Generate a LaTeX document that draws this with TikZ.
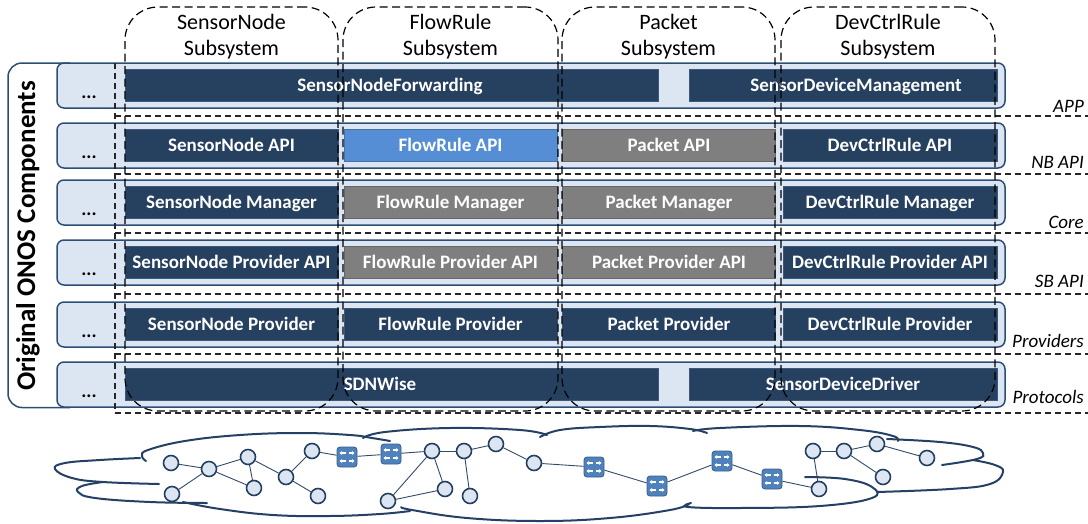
\documentclass[tikz,border=0pt]{standalone}
\usepackage{fontspec}
\setmainfont{Carlito}
\usetikzlibrary{arrows.meta}
\definecolor{navy}{RGB}{38,64,96}
\definecolor{navyline}{RGB}{60,88,124}
\definecolor{rowfill}{RGB}{220,230,242}
\definecolor{rowedge}{RGB}{44,77,117}
\definecolor{grayc}{RGB}{127,127,127}
\definecolor{bluec}{RGB}{85,142,213}
\definecolor{swfill}{RGB}{79,129,189}
\definecolor{swedge}{RGB}{56,93,138}
\definecolor{cloudc}{RGB}{36,64,100}
\definecolor{linkc}{RGB}{50,75,105}
\newcommand\compfont{\fontsize{19}{22}\selectfont\bfseries}
\begin{document}
\begin{tikzpicture}[x=1pt,y=-1pt,
  layer/.style={draw=rowedge, fill=rowfill, line width=1.5pt, rounded corners=7pt,
    minimum width=948pt, minimum height=45pt, inner sep=0pt},
  comp/.style={fill=navy, draw=navyline, line width=0.6pt, minimum height=32pt,
    inner sep=0pt, text=white, font=\compfont, text height=12.2pt, text depth=0pt},
  grey/.style={comp, fill=grayc, draw=grayc!80!black},
  blue/.style={comp, fill=bluec, draw=bluec!80!black},
  w213/.style={minimum width=213pt},
  freetext/.style={anchor=base, text=white, font=\compfont, inner sep=0pt},
  dots/.style={anchor=base, font=\fontsize{19}{22}\selectfont\bfseries, inner sep=0pt},
  head/.style={anchor=base, font=\fontsize{22}{24}\selectfont, inner sep=0pt},
  tier/.style={anchor=base east, font=\fontsize{19}{21}\selectfont\itshape, inner sep=0pt},
  subsys/.style={draw=black, line width=1.2pt, dash pattern=on 8pt off 4.5pt,
    rounded corners=33pt, minimum height=404pt, inner sep=0pt},
  tierline/.style={draw=black!85, line width=1.2pt, dash pattern=on 6pt off 4pt},
  cloudline/.style={draw=cloudc, line width=2pt, line cap=round},
  host/.style={circle, draw=navy, fill=rowfill, line width=1.6pt, minimum size=15pt, inner sep=0pt},
  switch/.style={draw=swedge, fill=swfill, line width=0.8pt, rounded corners=3pt,
    minimum size=20pt, inner sep=0pt,
    path picture={
      \foreach \dy in {4pt,-4pt}{
        \draw[white, line width=1.1pt, -{Triangle[length=2.5pt,width=3.6pt]}]
          ([xshift=-1.5pt,yshift=\dy]path picture bounding box.center) -- ++(-6pt,0);
        \draw[white, line width=1.1pt, -{Triangle[length=2.5pt,width=3.6pt]}]
          ([xshift=1.5pt,yshift=\dy]path picture bounding box.center) -- ++(6pt,0);
      }}},
  link/.style={draw=linkc, line width=0.9pt}
]
\useasboundingbox (0,0) rectangle (1088,523);

% frame of the original ONOS components
\draw[rowedge, line width=1.5pt, rounded corners=14pt] (70,63) -- (8,63) -- (8,407.5) -- (70,407.5);
\node[rotate=90, anchor=base, font=\fontsize{27}{29}\selectfont\bfseries, inner sep=0pt]
  (onos) at (35,236) {Original ONOS Components};

% layers
\node[layer] (rowA) at (531,85.5) {};
\node[layer] (rowB) at (531,145.5) {};
\node[layer] (rowC) at (531,202.5) {};
\node[layer] (rowD) at (531,262.5) {};
\node[layer] (rowE) at (531,324.5) {};
\node[layer] (rowF) at (531,384.5) {};

\foreach \r/\t in {A/63,B/123,C/180,D/240,E/302,F/362}
  \node[dots] (dots\r) at (89,\t+35) {...};

% APP layer
\node[comp, minimum width=533pt] (fwd) at (391.5,85.5) {};
\node[comp, minimum width=308pt] (mgmt) at (843,85.5) {};
\node[freetext] (fwdtxt) at (390,91.5) {SensorNodeForwarding};
\node[freetext] (mgmttxt) at (856,91.5) {SensorDeviceManagement};

% NB API layer
\node[comp, w213] (snapi) at (231.5,145.5) {SensorNode API};
\node[blue, w213] (frapi) at (450.5,145.5) {FlowRule API};
\node[grey, w213] (pkapi) at (669,145.5) {Packet API};
\node[comp, minimum width=214pt] (dcapi) at (890,145.5) {DevCtrlRule API};

% Core layer
\node[comp, w213] (snmgr) at (231.5,202.5) {SensorNode Manager};
\node[grey, w213] (frmgr) at (450.5,202.5) {FlowRule Manager};
\node[grey, w213] (pkmgr) at (669,202.5) {Packet Manager};
\node[comp, minimum width=214pt] (dcmgr) at (890,202.5) {DevCtrlRule Manager};

% SB API layer
\node[comp, w213] (snpapi) at (231.5,262.5) {SensorNode Provider API};
\node[grey, w213] (frpapi) at (450.5,262.5) {FlowRule Provider API};
\node[grey, w213] (pkpapi) at (669,262.5) {Packet Provider API};
\node[comp, minimum width=214pt] (dcpapi) at (890,262.5) {DevCtrlRule Provider API};

% Providers layer
\node[comp, w213] (snprov) at (231.5,324.5) {SensorNode Provider};
\node[comp, w213] (frprov) at (450.5,324.5) {FlowRule Provider};
\node[comp, w213] (pkprov) at (669,324.5) {Packet Provider};
\node[comp, minimum width=214pt] (dcprov) at (890,324.5) {DevCtrlRule Provider};

% Protocols layer
\node[comp, minimum width=533pt] (sdnwise) at (391.5,384.5) {};
\node[comp, minimum width=308pt] (driver) at (843,384.5) {};
\node[freetext] (sdnwisetxt) at (380,390.5) {SDNWise};
\node[freetext] (drivertxt) at (843,390.5) {SensorDeviceDriver};

% tier separators
\draw[tierline] (115,63) -- (115,413);
\foreach \y in {116,174,233,294,354,413}
  \draw[tierline] (115,\y) -- (1088,\y);
\node[tier] (tapp) at (1084,112) {APP};
\node[tier] (tnb) at (1084,168) {NB API};
\node[tier] (tcore) at (1084,228) {Core};
\node[tier] (tsb) at (1084,287) {SB API};
\node[tier] (tprov) at (1084,347) {Providers};
\node[tier] (tproto) at (1084,403) {Protocols};

% subsystems
\node[subsys, minimum width=213pt] (sssn) at (231.5,209) {};
\node[subsys, minimum width=215pt] (ssfr) at (450.5,209) {};
\node[subsys, minimum width=213pt] (sspk) at (668.5,209) {};
\node[subsys, minimum width=214pt] (ssdc) at (888,209) {};
\foreach \n/\x/\a in {sn/231.5/SensorNode, fr/450.5/FlowRule, pk/668.5/Packet, dc/888/DevCtrlRule}{
  \node[head] (h1\n) at (\x,29) {\a};
  \node[head] (h2\n) at (\x,55) {Subsystem};
}

% cloud outline
\draw[cloudline] plot[smooth, tension=0.7] coordinates {(146,461) (142,456) (148,450) (185,441) (240,435) (300,433) (350,435) (372,438) (390,441)};
\draw[cloudline] plot[smooth, tension=0.7] coordinates {(363,438) (385,432) (450,428) (520,430) (547,435)};
\draw[cloudline] plot[smooth, tension=0.7] coordinates {(540,437) (560,430) (600,427) (650,426) (690,429) (707,433)};
\draw[cloudline] plot[smooth, tension=0.7] coordinates {(693,431) (720,428) (800,426) (860,430) (893,436) (898,441)};
\draw[cloudline] plot[smooth, tension=0.7] coordinates {(887,439) (940,442) (973,447) (983,453) (977,459) (942,465)};
\draw[cloudline] plot[smooth, tension=0.7] coordinates {(973,460) (995,465) (1003,472) (990,484) (950,489) (877,492)};
\draw[cloudline] plot[smooth, tension=0.7] coordinates {(805,477) (845,479) (872,487) (872,498) (820,506) (740,508) (688,507) (691,503)};
\draw[cloudline] plot[smooth, tension=0.7] coordinates {(401,507) (412,510) (467,518) (540,521) (610,518) (670,510) (689,504)};
\draw[cloudline] plot[smooth, tension=0.7] coordinates {(183,502) (220,509) (273,515) (330,516) (380,514) (410,511)};
\draw[cloudline] plot[smooth, tension=0.7] coordinates {(140,458) (100,460) (65,463) (55,469) (72,478) (103,482) (159,484)};
\draw[cloudline] plot[smooth, tension=0.7] coordinates {(103,482) (82,486) (78,492) (95,498) (150,502) (207,503)};

% sensor network
\node[host] (n1) at (171,463) {};
\node[host] (n2) at (209,469) {};
\node[host] (n3) at (248,457) {};
\node[host] (n4) at (172,494) {};
\node[host] (n5) at (254,488) {};
\node[host] (n6) at (286,477) {};
\node[host] (n7) at (312,451) {};
\node[host] (n8) at (318,496) {};
\node[switch] (s1) at (347,457) {};
\node[switch] (s2) at (391,454) {};
\node[host] (n9) at (432,451) {};
\node[host] (n10) at (464,451) {};
\node[host] (n11) at (496,444) {};
\node[host] (n12) at (534,463) {};
\node[host] (n13) at (388,501) {};
\node[host] (n14) at (445,489) {};
\node[host] (n15) at (470,496) {};
\node[switch] (s3) at (594,467) {};
\node[switch] (s4) at (657,486) {};
\node[switch] (s5) at (722,461) {};
\node[switch] (s6) at (772,479) {};
\node[host] (n16) at (819,489) {};
\node[host] (n17) at (813,451) {};
\node[host] (n18) at (844,451) {};
\node[host] (n19) at (877,444) {};
\node[host] (n20) at (927,458) {};
\node[host] (n21) at (883,477) {};

\foreach \a/\b in {n1/n2, n2/n3, n2/n4, n2/n5, n3/n5, n3/n6, n6/n7, n6/n8, n7/s1, s1/s2,
  s2/n9, n9/n10, n9/n13, n9/n14, n13/n14, n10/n11, n10/n15, n11/n12, n12/s3,
  s3/s4, s4/s5, s5/s6, s6/n16, n16/n17, n17/n18, n18/n19, n19/n20, n18/n21}
  \draw[link] (\a) -- (\b);
\end{tikzpicture}
\end{document}
